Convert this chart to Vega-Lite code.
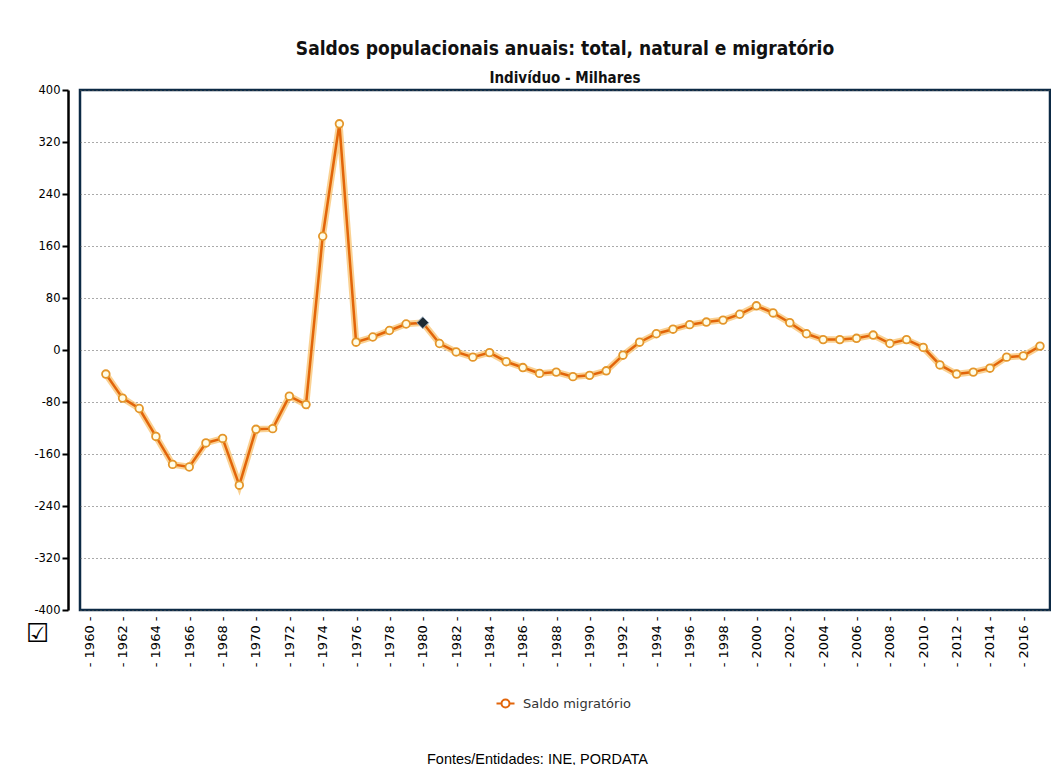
{
  "$schema": "https://vega.github.io/schema/vega-lite/v6.json",
  "width": 970,
  "height": 520,
  "padding": {"left": 25, "top": 40, "right": 0, "bottom": 0},
  "background": "white",
  "title": {
    "text": "Saldos populacionais anuais: total, natural e migratório",
    "subtitle": "Indivíduo - Milhares",
    "font": "DejaVu Sans Condensed, Liberation Sans, sans-serif",
    "fontSize": 19,
    "fontWeight": "bold",
    "color": "#111",
    "subtitleFont": "DejaVu Sans Condensed, Liberation Sans, sans-serif",
    "subtitleFontSize": 15,
    "subtitleFontWeight": "bold",
    "subtitleColor": "#111",
    "subtitlePadding": 12,
    "anchor": "middle",
    "frame": "group",
    "offset": -2
  },
  "config": {
    "view": {"stroke": "#0d2a45", "strokeWidth": 2.5},
    "axis": {"labelColor": "#000", "titleColor": "#000"}
  },
  "data": {
    "values": [
      {"ano": 1961, "valor": -37, "serie": "Saldo migratório", "destaque": 0},
      {"ano": 1962, "valor": -74, "serie": "Saldo migratório", "destaque": 0},
      {"ano": 1963, "valor": -90, "serie": "Saldo migratório", "destaque": 0},
      {"ano": 1964, "valor": -133, "serie": "Saldo migratório", "destaque": 0},
      {"ano": 1965, "valor": -176, "serie": "Saldo migratório", "destaque": 0},
      {"ano": 1966, "valor": -180, "serie": "Saldo migratório", "destaque": 0},
      {"ano": 1967, "valor": -143, "serie": "Saldo migratório", "destaque": 0},
      {"ano": 1968, "valor": -136, "serie": "Saldo migratório", "destaque": 0},
      {"ano": 1969, "valor": -208, "serie": "Saldo migratório", "destaque": 0},
      {"ano": 1970, "valor": -122, "serie": "Saldo migratório", "destaque": 0},
      {"ano": 1971, "valor": -121, "serie": "Saldo migratório", "destaque": 0},
      {"ano": 1972, "valor": -71, "serie": "Saldo migratório", "destaque": 0},
      {"ano": 1973, "valor": -84, "serie": "Saldo migratório", "destaque": 0},
      {"ano": 1974, "valor": 175, "serie": "Saldo migratório", "destaque": 0},
      {"ano": 1975, "valor": 348, "serie": "Saldo migratório", "destaque": 0},
      {"ano": 1976, "valor": 12, "serie": "Saldo migratório", "destaque": 0},
      {"ano": 1977, "valor": 20, "serie": "Saldo migratório", "destaque": 0},
      {"ano": 1978, "valor": 30, "serie": "Saldo migratório", "destaque": 0},
      {"ano": 1979, "valor": 40, "serie": "Saldo migratório", "destaque": 0},
      {"ano": 1980, "valor": 42, "serie": "Saldo migratório", "destaque": 1},
      {"ano": 1981, "valor": 10, "serie": "Saldo migratório", "destaque": 0},
      {"ano": 1982, "valor": -3, "serie": "Saldo migratório", "destaque": 0},
      {"ano": 1983, "valor": -11, "serie": "Saldo migratório", "destaque": 0},
      {"ano": 1984, "valor": -4, "serie": "Saldo migratório", "destaque": 0},
      {"ano": 1985, "valor": -18, "serie": "Saldo migratório", "destaque": 0},
      {"ano": 1986, "valor": -27, "serie": "Saldo migratório", "destaque": 0},
      {"ano": 1987, "valor": -36, "serie": "Saldo migratório", "destaque": 0},
      {"ano": 1988, "valor": -34, "serie": "Saldo migratório", "destaque": 0},
      {"ano": 1989, "valor": -41, "serie": "Saldo migratório", "destaque": 0},
      {"ano": 1990, "valor": -39, "serie": "Saldo migratório", "destaque": 0},
      {"ano": 1991, "valor": -32, "serie": "Saldo migratório", "destaque": 0},
      {"ano": 1992, "valor": -8, "serie": "Saldo migratório", "destaque": 0},
      {"ano": 1993, "valor": 12, "serie": "Saldo migratório", "destaque": 0},
      {"ano": 1994, "valor": 25, "serie": "Saldo migratório", "destaque": 0},
      {"ano": 1995, "valor": 32, "serie": "Saldo migratório", "destaque": 0},
      {"ano": 1996, "valor": 39, "serie": "Saldo migratório", "destaque": 0},
      {"ano": 1997, "valor": 43, "serie": "Saldo migratório", "destaque": 0},
      {"ano": 1998, "valor": 46, "serie": "Saldo migratório", "destaque": 0},
      {"ano": 1999, "valor": 55, "serie": "Saldo migratório", "destaque": 0},
      {"ano": 2000, "valor": 68, "serie": "Saldo migratório", "destaque": 0},
      {"ano": 2001, "valor": 57, "serie": "Saldo migratório", "destaque": 0},
      {"ano": 2002, "valor": 42, "serie": "Saldo migratório", "destaque": 0},
      {"ano": 2003, "valor": 25, "serie": "Saldo migratório", "destaque": 0},
      {"ano": 2004, "valor": 16, "serie": "Saldo migratório", "destaque": 0},
      {"ano": 2005, "valor": 16, "serie": "Saldo migratório", "destaque": 0},
      {"ano": 2006, "valor": 18, "serie": "Saldo migratório", "destaque": 0},
      {"ano": 2007, "valor": 23, "serie": "Saldo migratório", "destaque": 0},
      {"ano": 2008, "valor": 10, "serie": "Saldo migratório", "destaque": 0},
      {"ano": 2009, "valor": 16, "serie": "Saldo migratório", "destaque": 0},
      {"ano": 2010, "valor": 4, "serie": "Saldo migratório", "destaque": 0},
      {"ano": 2011, "valor": -23, "serie": "Saldo migratório", "destaque": 0},
      {"ano": 2012, "valor": -37, "serie": "Saldo migratório", "destaque": 0},
      {"ano": 2013, "valor": -34, "serie": "Saldo migratório", "destaque": 0},
      {"ano": 2014, "valor": -28, "serie": "Saldo migratório", "destaque": 0},
      {"ano": 2015, "valor": -11, "serie": "Saldo migratório", "destaque": 0},
      {"ano": 2016, "valor": -9, "serie": "Saldo migratório", "destaque": 0},
      {"ano": 2017, "valor": 6, "serie": "Saldo migratório", "destaque": 0}
    ]
  },
  "encoding": {
    "x": {
      "field": "ano",
      "type": "quantitative",
      "scale": {"domain": [1959.45, 2017.6], "nice": false, "zero": false},
      "axis": {
        "values": [1960,1962,1964,1966,1968,1970,1972,1974,1976,1978,1980,1982,1984,1986,1988,1990,1992,1994,1996,1998,2000,2002,2004,2006,2008,2010,2012,2014,2016],
        "labelExpr": "'- ' + datum.value + ' -'",
        "labelAngle": 270,
        "labelFont": "DejaVu Sans",
        "labelFontSize": 13,
        "labelPadding": 6,
        "labelOverlap": false,
        "domain": false,
        "ticks": false,
        "grid": false,
        "title": "Fontes/Entidades: INE, PORDATA",
        "titleFont": "Liberation Sans",
        "titleFontSize": 14.5,
        "titleFontWeight": "normal",
        "titleX": 457,
        "titleY": 149,
        "titleAlign": "center",
        "titleBaseline": "middle"
      }
    },
    "y": {
      "field": "valor",
      "type": "quantitative",
      "scale": {"domain": [-400, 400], "nice": false},
      "axis": {
        "values": [-400,-320,-240,-160,-80,0,80,160,240,320,400],
        "labelExpr": "'' + datum.value",
        "offset": 12,
        "domainColor": "#000",
        "domainWidth": 2.5,
        "tickColor": "#000",
        "tickWidth": 2,
        "tickSize": 6,
        "labelPadding": 2,
        "labelFont": "DejaVu Sans",
        "labelFontSize": 11.5,
        "grid": true,
        "gridColor": "#555",
        "gridDash": [1, 3],
        "gridWidth": 1,
        "title": "☑",
        "titleFont": "DejaVu Sans",
        "titleFontSize": 26,
        "titleFontWeight": "bold",
        "titleAngle": 0,
        "titleX": -31,
        "titleY": 543,
        "titleAlign": "center",
        "titleBaseline": "middle"
      }
    }
  },
  "layer": [
    {
      "mark": {"type": "line", "stroke": "#f7b24a", "strokeWidth": 6.5, "opacity": 0.6}
    },
    {
      "mark": {"type": "line", "strokeWidth": 2.5},
      "encoding": {
        "color": {
          "field": "serie",
          "type": "nominal",
          "scale": {"range": ["#e2650a"]},
          "legend": {
            "title": null,
            "orient": "none",
            "legendX": 419,
            "legendY": 607,
            "symbolType": "M-1.8,0H-0.8M0.8,0H1.8M0.8,0A0.8,0.8 0 1,1 -0.8,0A0.8,0.8 0 1,1 0.8,0Z",
            "symbolSize": 100,
            "symbolStrokeWidth": 2,
            "symbolStrokeColor": "#e8951c",
            "symbolFillColor": "#ffffff",
            "labelFont": "DejaVu Sans",
            "labelFontSize": 13,
            "labelColor": "#333",
            "labelOffset": 11,
            "encode": {"symbols": {"update": {"fill": {"value": "#ffffff"}, "stroke": {"value": "#e8951c"}}}}
          }
        }
      }
    },
    {
      "transform": [{"filter": "datum.destaque == 0"}],
      "mark": {"type": "point", "shape": "circle", "filled": true, "fill": "#fffde8", "stroke": "#e4962a", "strokeWidth": 1.8, "size": 58, "opacity": 1}
    },
    {
      "transform": [{"filter": "datum.destaque == 1"}],
      "mark": {"type": "point", "shape": "diamond", "filled": true, "fill": "#1e2a33", "stroke": "#9ab", "strokeWidth": 1, "size": 140, "opacity": 1}
    }
  ]
}
